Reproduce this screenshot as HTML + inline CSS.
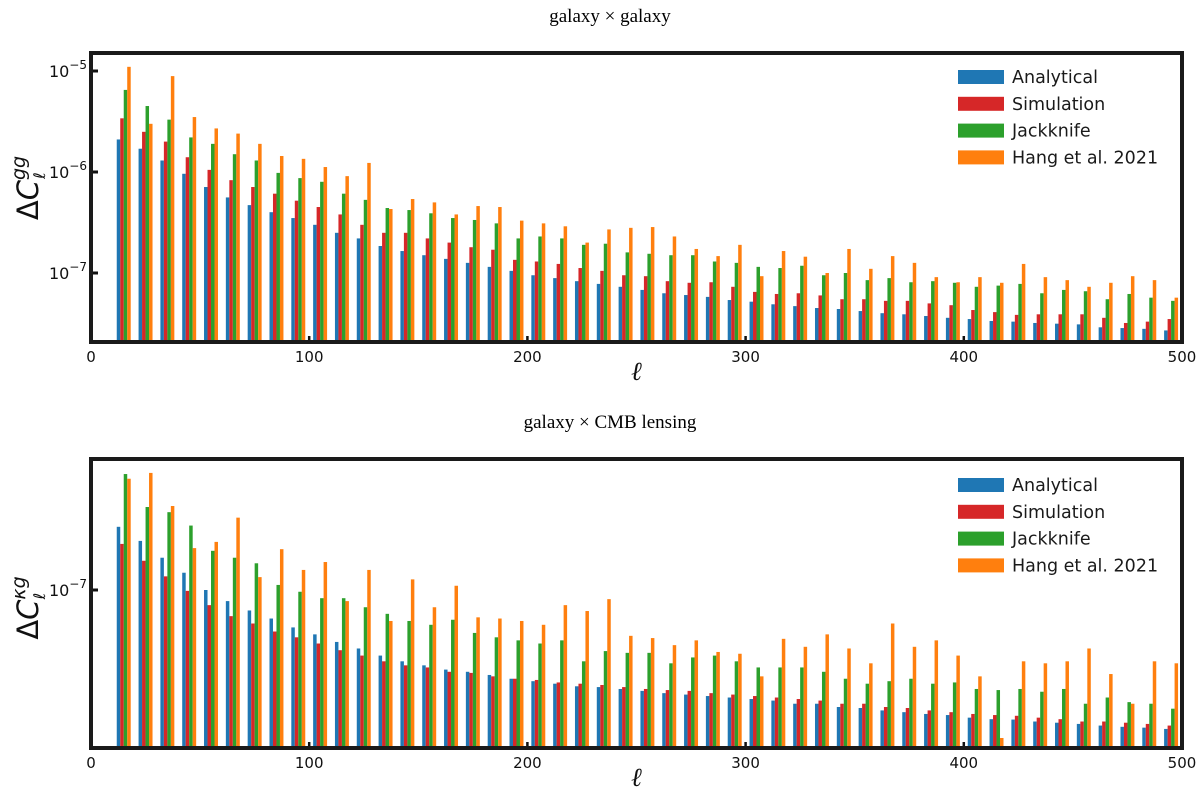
<!DOCTYPE html>
<html><head><meta charset="utf-8">
<style>
html,body{margin:0;padding:0;background:#fff;}
svg{display:block;}
text{font-family:"DejaVu Sans","Liberation Sans",sans-serif;}
.serif{font-family:"Liberation Serif","DejaVu Serif",serif;}
</style></head>
<body>
<svg id="chart" width="1200" height="801" viewBox="0 0 1200 801" xmlns="http://www.w3.org/2000/svg">
<text class="serif" x="610" y="22" font-size="19" text-anchor="middle">galaxy × galaxy</text>
<text class="serif" x="610" y="428" font-size="19" text-anchor="middle">galaxy × CMB lensing</text>
<g id="top"></g>
<g id="bot"></g>
</svg>
<script>
const ellCenters=[15,25,35,45,55,65,75,85,95,105,115,125,135,145,155,165,175,185,195,205,215,225,235,245,255,265,275,285,295,305,315,325,335,345,355,365,375,385,395,405,415,425,435,445,455,465,475,485,495];
const seriesNames=["Analytical","Simulation","Jackknife","Hang et al. 2021"];
const seriesColors=["#1f77b4","#d62728","#2ca02c","#ff7f0e"];
const xTicks=[0,100,200,300,400,500];
const ggAnalytical=[2.1e-6,1.7e-6,1.3e-6,9.6e-7,7.1e-7,5.6e-7,4.7e-7,4.0e-7,3.5e-7,3.0e-7,2.5e-7,2.2e-7,1.85e-7,1.65e-7,1.5e-7,1.38e-7,1.26e-7,1.15e-7,1.05e-7,9.5e-8,8.9e-8,8.3e-8,7.8e-8,7.3e-8,6.8e-8,6.3e-8,6.05e-8,5.8e-8,5.4e-8,5.2e-8,4.9e-8,4.7e-8,4.5e-8,4.4e-8,4.2e-8,4.0e-8,3.9e-8,3.75e-8,3.6e-8,3.5e-8,3.35e-8,3.3e-8,3.2e-8,3.15e-8,3.1e-8,2.9e-8,2.85e-8,2.8e-8,2.7e-8];
const ggSimulation=[3.4e-6,2.5e-6,2.0e-6,1.4e-6,1.05e-6,8.3e-7,7.1e-7,6.1e-7,5.2e-7,4.5e-7,3.8e-7,3.0e-7,2.5e-7,2.5e-7,2.2e-7,2.0e-7,1.8e-7,1.7e-7,1.35e-7,1.3e-7,1.23e-7,1.12e-7,1.05e-7,9.5e-8,9.3e-8,8.3e-8,8.0e-8,8.1e-8,7.3e-8,6.5e-8,6.2e-8,6.3e-8,6.0e-8,5.5e-8,5.5e-8,5.3e-8,5.3e-8,5.0e-8,4.8e-8,4.3e-8,4.1e-8,3.85e-8,3.9e-8,3.9e-8,3.9e-8,3.6e-8,3.2e-8,3.3e-8,3.5e-8];
const ggJackknife=[6.5e-6,4.5e-6,3.3e-6,2.2e-6,1.9e-6,1.5e-6,1.3e-6,9.8e-7,8.7e-7,8.0e-7,6.1e-7,5.3e-7,4.4e-7,4.2e-7,3.9e-7,3.5e-7,3.35e-7,3.1e-7,2.2e-7,2.3e-7,2.2e-7,1.9e-7,1.95e-7,1.6e-7,1.55e-7,1.5e-7,1.5e-7,1.3e-7,1.26e-7,1.15e-7,1.12e-7,1.18e-7,9.5e-8,1.0e-7,8.5e-8,8.9e-8,8.1e-8,8.3e-8,8.0e-8,7.3e-8,7.5e-8,7.8e-8,6.3e-8,6.8e-8,6.6e-8,5.5e-8,6.2e-8,5.7e-8,5.3e-8];
const ggHang=[1.1e-5,3.0e-6,8.9e-6,3.5e-6,2.7e-6,2.4e-6,1.9e-6,1.44e-6,1.35e-6,1.12e-6,9.1e-7,1.23e-6,4.3e-7,5.4e-7,5.0e-7,3.8e-7,4.6e-7,4.5e-7,3.3e-7,3.1e-7,2.9e-7,2.0e-7,2.7e-7,2.8e-7,2.85e-7,2.3e-7,1.73e-7,1.47e-7,1.9e-7,9.3e-8,1.65e-7,1.45e-7,1.0e-7,1.73e-7,1.1e-7,1.47e-7,1.26e-7,9.1e-8,8.1e-8,9.1e-8,8.0e-8,1.23e-7,9.1e-8,8.5e-8,7.3e-8,8.0e-8,9.3e-8,8.5e-8,5.7e-8];
const kgAnalytical=[2.07e-7,1.76e-7,1.45e-7,1.22e-7,1.0e-7,8.8e-8,7.9e-8,7.2e-8,6.5e-8,6.0e-8,5.5e-8,5.1e-8,4.7e-8,4.4e-8,4.2e-8,4.0e-8,3.9e-8,3.76e-8,3.6e-8,3.5e-8,3.4e-8,3.3e-8,3.27e-8,3.2e-8,3.13e-8,3.05e-8,3.0e-8,2.95e-8,2.9e-8,2.85e-8,2.8e-8,2.7e-8,2.7e-8,2.6e-8,2.57e-8,2.5e-8,2.45e-8,2.4e-8,2.37e-8,2.3e-8,2.26e-8,2.25e-8,2.2e-8,2.17e-8,2.14e-8,2.1e-8,2.07e-8,2.05e-8,2.02e-8];
const kgSimulation=[1.7e-7,1.4e-7,1.17e-7,9.9e-8,8.4e-8,7.4e-8,6.8e-8,6.2e-8,5.8e-8,5.4e-8,5.0e-8,4.7e-8,4.4e-8,4.2e-8,4.1e-8,3.9e-8,3.85e-8,3.7e-8,3.6e-8,3.55e-8,3.45e-8,3.4e-8,3.35e-8,3.27e-8,3.2e-8,3.16e-8,3.13e-8,3.05e-8,3.0e-8,2.95e-8,2.9e-8,2.85e-8,2.8e-8,2.7e-8,2.7e-8,2.6e-8,2.57e-8,2.5e-8,2.45e-8,2.4e-8,2.37e-8,2.35e-8,2.3e-8,2.26e-8,2.2e-8,2.2e-8,2.17e-8,2.14e-8,2.1e-8];
const kgJackknife=[3.8e-7,2.6e-7,2.45e-7,2.1e-7,1.57e-7,1.45e-7,1.36e-7,1.06e-7,9.8e-8,9.1e-8,9.1e-8,8.2e-8,7.6e-8,7.0e-8,6.7e-8,7.1e-8,6.1e-8,5.8e-8,5.6e-8,5.4e-8,5.6e-8,4.4e-8,4.95e-8,4.85e-8,4.85e-8,4.3e-8,4.6e-8,4.7e-8,4.4e-8,4.1e-8,4.1e-8,4.1e-8,3.9e-8,3.6e-8,3.4e-8,3.5e-8,3.6e-8,3.4e-8,3.45e-8,3.2e-8,3.16e-8,3.2e-8,3.1e-8,3.2e-8,2.7e-8,2.9e-8,2.75e-8,2.7e-8,2.55e-8];
const kgHang=[3.6e-7,3.85e-7,2.63e-7,1.62e-7,1.74e-7,2.3e-7,1.16e-7,1.6e-7,1.26e-7,1.38e-7,8.8e-8,1.26e-7,7.0e-8,1.13e-7,8.2e-8,1.05e-7,7.3e-8,7.2e-8,7.0e-8,6.7e-8,8.4e-8,7.85e-8,9.0e-8,5.9e-8,5.75e-8,5.3e-8,5.6e-8,4.9e-8,4.8e-8,3.7e-8,5.7e-8,5.2e-8,6.0e-8,5.1e-8,4.3e-8,6.8e-8,5.2e-8,5.6e-8,4.7e-8,3.7e-8,1.82e-8,4.4e-8,4.3e-8,4.4e-8,5.1e-8,3.8e-8,2.7e-8,4.4e-8,4.3e-8];

const NS='http://www.w3.org/2000/svg';
function mk(tag,attrs,parent){const e=document.createElementNS(NS,tag);for(const k in attrs)e.setAttribute(k,attrs[k]);parent.appendChild(e);return e;}
const X0=91,X1=1182;
function xScale(l){return X0+(X1-X0)*l/500;}
const barW=1.6;

function panel(g,cfg,series){
  const yScale=v=>cfg.refY-(Math.log10(v)-cfg.refExp)*cfg.decade;
  const clip=mk('clipPath',{id:cfg.id+'clip'},g);
  mk('rect',{x:X0,y:cfg.top,width:X1-X0,height:cfg.bottom-cfg.top},clip);
  const bars=mk('g',{'clip-path':'url(#'+cfg.id+'clip)'},g);
  
  
  series.forEach((vals,s)=>{
    vals.forEach((v,i)=>{
      const l0=ellCenters[i]-2*barW+s*barW;
      const x=xScale(l0), w=xScale(l0+barW)-x, y=yScale(v);
      const r=mk('rect',{x:x.toFixed(2),y:y.toFixed(2),width:w.toFixed(2),height:Math.max(0,cfg.bottom-y).toFixed(2),fill:seriesColors[s]},bars);
      
      
    });
  });
  xTicks.forEach(t=>{
    const x=xScale(t);
    const tk=mk('line',{x1:x,x2:x,y1:cfg.bottom,y2:cfg.bottom-6,stroke:'#111','stroke-width':2.5},g);
    
    
    const lb=mk('text',{x:x,y:cfg.bottom+20,'font-size':15,'text-anchor':'middle',fill:'#111'},g);
    lb.textContent=String(t);
    
    
  });
  cfg.yTicks.forEach(e=>{
    const y=yScale(Math.pow(10,e));
    const tk=mk('line',{x1:X0,x2:X0+7,y1:y,y2:y,stroke:'#111','stroke-width':3},g);
    
    
    const lb=mk('text',{x:X0-4,y:y+6,'font-size':16,'text-anchor':'end',fill:'#111'},g);
    
    
    const a=mk('tspan',{},lb);a.textContent='10';
    const b=mk('tspan',{dy:-8,'font-size':12},lb);b.textContent='\u2212'+(-e);
  });
  const fr=mk('rect',{x:X0,y:cfg.top,width:X1-X0,height:cfg.bottom-cfg.top,fill:'none',stroke:'#1a1a1a','stroke-width':4},g);
  
  
  seriesNames.forEach((n,s)=>{
    const y=cfg.legY+s*26.8;
    const r=mk('rect',{x:958,y:y-7,width:46,height:14,fill:seriesColors[s]},g);
    
    
    const t=mk('text',{x:1012,y:y+6,'font-size':17.5,fill:'#1a1a1a'},g);
    t.textContent=n;
    
    
  });
  const xl=mk('text',{x:637,y:cfg.bottom+38,'font-size':26,'font-weight':'bold','font-style':'italic','text-anchor':'middle',class:'serif',fill:'#111'},g);
  xl.textContent='\u2113';
  
  
  const yl=mk('text',{x:0,y:0,'font-size':29,'text-anchor':'middle',fill:'#111',transform:'translate(38,'+cfg.ylY+') rotate(-90)'},g);
  
  
  const a=mk('tspan',{},yl);a.textContent='\u0394';
  const a2=mk('tspan',{'font-style':'italic'},yl);a2.textContent='C';
  const b=mk('tspan',{dy:-13,'font-size':19,'font-style':'italic'},yl);b.textContent=cfg.sup;
  const c=mk('tspan',{dx:-cfg.supW,dy:20,'font-size':16,'font-style':'italic'},yl);c.textContent='\u2113';
}
panel(document.getElementById('top'),{id:'t',top:53,bottom:342,refY:71,refExp:-5,decade:101,yTicks:[-5,-6,-7],legY:77,ylY:188,sup:'gg',supW:23},[ggAnalytical,ggSimulation,ggJackknife,ggHang]);
panel(document.getElementById('bot'),{id:'b',top:459,bottom:748,refY:590,refExp:-7,decade:200,yTicks:[-7],legY:485,ylY:608,sup:'\u03bag',supW:23},[kgAnalytical,kgSimulation,kgJackknife,kgHang]);
</script>
</body></html>
